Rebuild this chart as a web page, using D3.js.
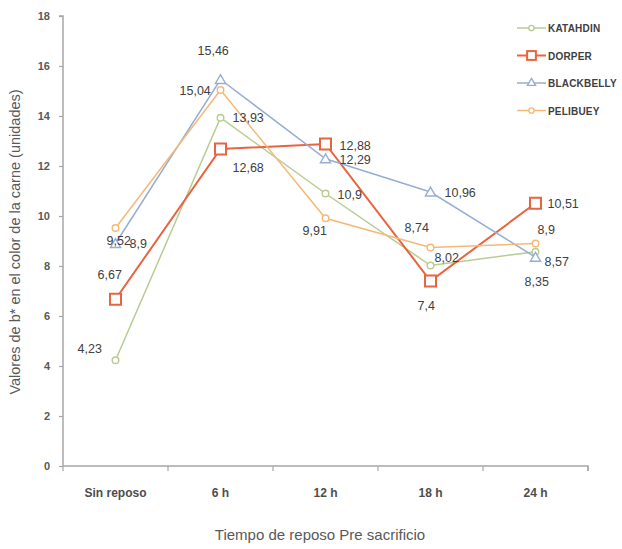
<!DOCTYPE html>
<html><head><meta charset="utf-8">
<script src="https://cdn.jsdelivr.net/npm/d3@7"></script>
<style>body{margin:0;background:#fff;}svg{display:block;}</style>
</head><body>
<script>
const categories = ["Sin reposo","6 h","12 h","18 h","24 h"];
const katahdin  = [4.23, 13.93, 10.9, 8.02, 8.57];
const dorper    = [6.67, 12.68, 12.88, 7.4, 10.51];
const blackbelly= [8.9, 15.46, 12.29, 10.96, 8.35];
const pelibuey  = [9.52, 15.04, 9.91, 8.74, 8.9];
const seriesNames = ["KATAHDIN","DORPER","BLACKBELLY","PELIBUEY"];
const yTicks = [0,2,4,6,8,10,12,14,16,18];

const fmt = v => String(v).replace(".", ",");

// styling config (label offsets relative to point, in px; dy = offset of text centre)
const styles = [
  {color:"#b8cc92", width:1.5, marker:"diamond", offs:[[-38,-12],[12,0],[12,1],[4,-8],[9,10]]},
  {color:"#e8643f", width:2,   marker:"square",  offs:[[-18,-25],[12,18],[14,1],[-13,24],[12,0]]},
  {color:"#95aed4", width:1.5, marker:"triangle",offs:[[14,0],[-23,-29],[14,1],[14,0],[-11,24]]},
  {color:"#f6b877", width:1.5, marker:"diamond", offs:[[-9,12],[-41,0],[-23,12],[-26,-20],[2,-14]]}
];

const W = 622, H = 549;
const svg = d3.select("body").append("svg").attr("width", W).attr("height", H);
const x0 = 63, x1 = 588, yTop = 16, yBot = 466;

const x = d3.scaleBand().domain(categories).range([x0, x1]);
const y = d3.scaleLinear().domain([0, 18]).range([yBot, yTop]);

const tickFont = "'Liberation Sans',Arial,sans-serif";

// y axis
const yAxis = svg.append("g").attr("transform", `translate(${x0},0)`)
  .call(d3.axisLeft(y).tickValues(yTicks).tickSize(4).tickPadding(9));
yAxis.select(".domain").attr("stroke","#a6a6a6").attr("stroke-width",1.5).attr("d",`M-4,${yTop}H0V${yBot}`);
yAxis.selectAll(".tick line").attr("stroke","#a6a6a6").attr("stroke-width",1.2);
yAxis.selectAll(".tick text").attr("fill","#595959").style("font-family",tickFont).style("font-size","11px").style("font-weight","bold");

// x axis
const xAxis = svg.append("g").attr("transform", `translate(0,${yBot})`)
  .call(d3.axisBottom(x).tickSize(0).tickPadding(22));
xAxis.select(".domain").attr("stroke","#a6a6a6").attr("stroke-width",1.5).attr("d",`M${x0},0H${x1}V5`);
const bounds = d3.range(categories.length+1).map(i => x0 + i*x.step());
xAxis.selectAll(".bt").data(bounds).enter().append("line")
  .attr("x1", d=>d).attr("x2", d=>d).attr("y1",0).attr("y2",5)
  .attr("stroke","#a6a6a6").attr("stroke-width",1.2);
xAxis.selectAll(".tick text").attr("fill","#4d4d4d").style("font-family",tickFont).style("font-size","12px").style("font-weight","bold");

// axis titles
svg.append("text").attr("x", 320).attr("y", 540).attr("text-anchor","middle")
  .attr("fill","#595959").style("font-family","'Liberation Sans',Arial,sans-serif").style("font-size","15px")
  .text("Tiempo de reposo Pre sacrificio");
svg.append("text").attr("transform","translate(20,242) rotate(-90)").attr("text-anchor","middle")
  .attr("fill","#595959").style("font-family","'Liberation Sans',Arial,sans-serif").style("font-size","14.5px")
  .text("Valores de b* en el color de la carne (unidades)");

const data = [katahdin, dorper, blackbelly, pelibuey];
const cx = c => x(c) + x.bandwidth()/2;
const line = d3.line().x((d,i)=>cx(categories[i])).y(d=>y(d));

function drawMarker(g, type, px, py, color, s) {
  if (type === "square") {
    g.append("rect").attr("x",px-5.5*s).attr("y",py-5.5*s).attr("width",11*s).attr("height",11*s)
      .attr("fill","#fff").attr("stroke",color).attr("stroke-width",2);
  } else if (type === "triangle") {
    g.append("path").attr("d", d3.symbol().type(d3.symbolTriangle).size(45*s*s)()).attr("transform",`translate(${px},${py+1})`)
      .attr("fill","#fff").attr("stroke",color).attr("stroke-width",1.4);
  } else {
    g.append("circle").attr("cx",px).attr("cy",py).attr("r",3.3*s)
      .attr("fill","#fff").attr("stroke",color).attr("stroke-width",1.4);
  }
}

data.forEach((vals, si) => {
  const st = styles[si];
  const g = svg.append("g");
  g.append("path").datum(vals).attr("d", line).attr("fill","none")
    .attr("stroke", st.color).attr("stroke-width", st.width);
  vals.forEach((v,i) => drawMarker(g, st.marker, cx(categories[i]), y(v), st.color, 1));
});

// data labels
data.forEach((vals, si) => {
  const st = styles[si];
  vals.forEach((v,i) => {
    const [dx,dy] = st.offs[i];
    svg.append("text").attr("x", cx(categories[i]) + dx).attr("y", y(v) + dy + 4.5)
      .attr("fill","#404040")
      .style("font-family","'Liberation Sans',Arial,sans-serif").style("font-size","12.5px")
      .text(fmt(v));
  });
});

// legend
const leg = svg.append("g");
seriesNames.forEach((n, i) => {
  const st = styles[i];
  const ly = 28 + i*27.5;
  leg.append("line").attr("x1",517).attr("x2",546).attr("y1",ly).attr("y2",ly)
    .attr("stroke",st.color).attr("stroke-width", st.width);
  drawMarker(leg, st.marker, 531.5, ly - (st.marker==="triangle"?1:0), st.color, 0.8);
  leg.append("text").attr("x",548).attr("y",ly+4).attr("fill","#404040")
    .style("font-family","'Liberation Sans',Arial,sans-serif").style("font-size","10px")
    .style("font-weight","bold").style("letter-spacing","0.2px").text(n);
});
</script>
</body></html>
